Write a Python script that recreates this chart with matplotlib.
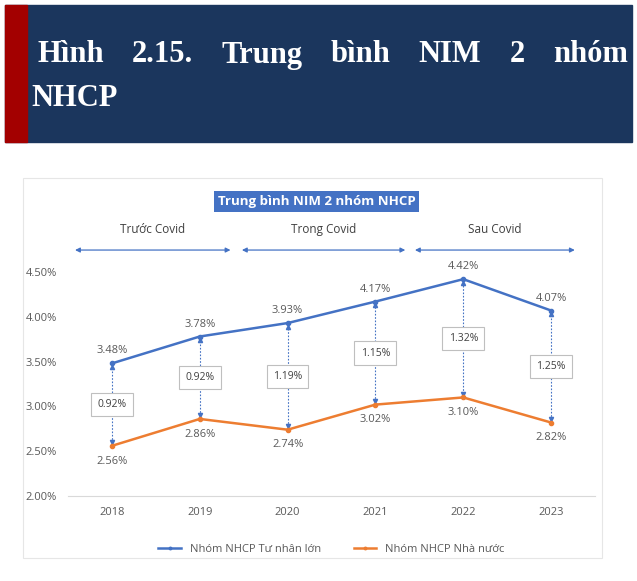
import matplotlib
matplotlib.use("Agg")
import matplotlib.pyplot as plt
from matplotlib.patches import Rectangle

# data
years = ["2018", "2019", "2020", "2021", "2022", "2023"]
private_nim = [3.48, 3.78, 3.93, 4.17, 4.42, 4.07]
state_nim = [2.56, 2.86, 2.74, 3.02, 3.10, 2.82]
gap_labels = ["0.92%", "0.92%", "1.19%", "1.15%", "1.32%", "1.25%"]
periods = ["Trước Covid", "Trong Covid", "Sau Covid"]
period_spans = [(-0.42, 1.35), (1.48, 3.34), (3.45, 5.27)]
yticks = [2.0, 2.5, 3.0, 3.5, 4.0, 4.5]

blue = "#4472C4"
orange = "#ED7D31"
grey = "#595959"
font = "Open Sans"

fig = plt.figure(figsize=(6.37, 5.81), dpi=100)

# header band
fig.patches.append(Rectangle((5 / 637, 1 - 142 / 581), 627 / 637, 137 / 581,
                             transform=fig.transFigure, color="#1b365d", zorder=0))
fig.patches.append(Rectangle((5 / 637, 1 - 142 / 581), 22 / 637, 137 / 581,
                             transform=fig.transFigure, color="#a30000", zorder=1))

# justified first title line
words = ["Hình", "2.15.", "Trung", "bình", "NIM", "2", "nhóm"]
x_left, x_right = 37 / 637, 628 / 637
texts = [fig.text(0, 1 - 55 / 581, w, color="white", fontsize=22, fontweight="bold",
                  family="Liberation Serif", va="center", ha="left") for w in words]
fig.canvas.draw()
r = fig.canvas.get_renderer()
widths = [t.get_window_extent(r).width / 637 for t in texts]
gap = (x_right - x_left - sum(widths)) / (len(words) - 1)
x = x_left
for t, w in zip(texts, widths):
    t.set_x(x)
    x += w + gap
fig.text(31 / 637, 1 - 99 / 581, "NHCP", color="white", fontsize=22, fontweight="bold",
         family="Liberation Serif", va="center", ha="left")

# chart frame
fig.patches.append(Rectangle((23 / 637, 1 - 558 / 581), 579 / 637, 380 / 581,
                             transform=fig.transFigure, fill=False, ec="#e6e6e6", lw=0.8))

ax = fig.add_axes([68 / 637, 85 / 581, 527 / 637, 224 / 581])
xs = list(range(len(years)))

ax.plot(xs, private_nim, color=blue, lw=1.8, marker="o", ms=3, zorder=3,
        label="Nhóm NHCP Tư nhân lớn")
ax.plot(xs, state_nim, color=orange, lw=1.8, marker="o", ms=3, zorder=3,
        label="Nhóm NHCP Nhà nước")

for i in xs:
    hi, lo = private_nim[i], state_nim[i]
    ax.vlines(i, lo, hi, colors=blue, linestyles=(0, (1.5, 1.5)), lw=0.8, zorder=2)
    ax.plot(i, hi - 0.04, marker="^", color=blue, ms=3, zorder=2)
    ax.plot(i, lo + 0.04, marker="v", color=blue, ms=3, zorder=2)
    ax.annotate(f"{hi:.2f}%", (i, hi), xytext=(0, 9), textcoords="offset points",
                ha="center", va="center", fontsize=8, color=grey, family=font)
    ax.annotate(f"{lo:.2f}%", (i, lo), xytext=(0, -11), textcoords="offset points",
                ha="center", va="center", fontsize=8, color=grey, family=font)
    ax.text(i, (hi + lo) / 2, gap_labels[i], ha="center", va="center", fontsize=7.5,
            color="#404040", family=font, zorder=4,
            bbox=dict(boxstyle="square,pad=0.6", fc="white", ec="#bfbfbf", lw=0.8))

# period arrows
for name, (a, b) in zip(periods, period_spans):
    ax.annotate("", xy=(b, 4.745), xytext=(a, 4.745), annotation_clip=False,
                arrowprops=dict(arrowstyle="<|-|>", color=blue, lw=0.9,
                                mutation_scale=7, shrinkA=0, shrinkB=0))
    ax.text((a + b) / 2, 4.97, name, ha="center", va="center", fontsize=8.5,
            color="#404040", family=font, clip_on=False)

ax.text(2.33, 5.29, "Trung bình NIM 2 nhóm NHCP", ha="center", va="center",
        fontsize=9.5, color="white", family=font, fontweight="bold",
        bbox=dict(boxstyle="square,pad=0.3", fc=blue, ec="none"))

ax.set_xlim(-0.5, 5.5)
ax.set_ylim(2.0, 4.5)
ax.set_xticks(xs)
ax.set_xticklabels(years)
ax.set_yticks(yticks)
ax.set_yticklabels([f"{v:.2f}%" for v in yticks])
ax.tick_params(length=0, labelsize=8, labelcolor=grey, pad=8)
for lab in ax.get_xticklabels() + ax.get_yticklabels():
    lab.set_family(font)
for s in ["top", "right", "left"]:
    ax.spines[s].set_visible(False)
ax.spines["bottom"].set_color("#d9d9d9")

leg = ax.legend(loc="upper center", bbox_to_anchor=(0.5, -0.17), ncol=2, frameon=False,
                prop={"family": font, "size": 8}, handlelength=2, columnspacing=3,
                markerscale=0.6)
for t in leg.get_texts():
    t.set_color(grey)

fig.savefig("out.png", dpi=100)
